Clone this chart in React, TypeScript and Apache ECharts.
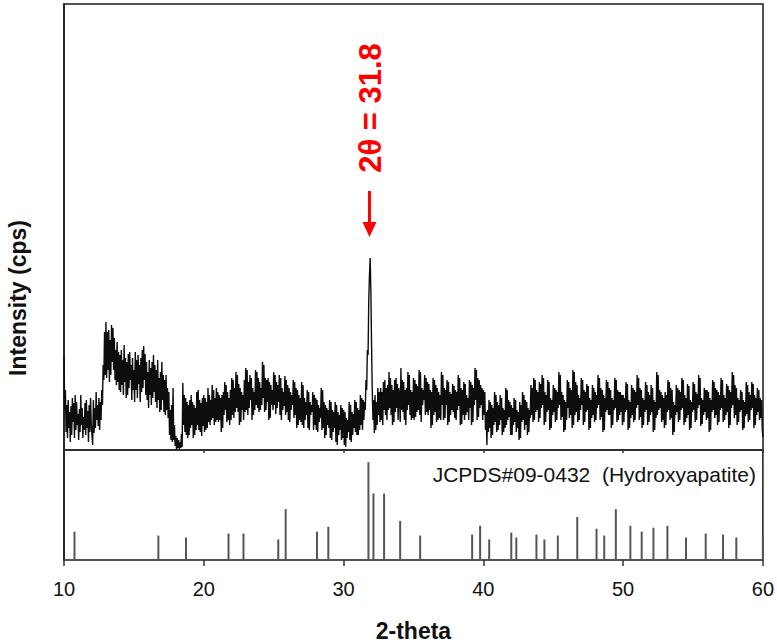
import React, { useEffect, useRef } from "react";
import * as echarts from "echarts";

// Measured XRD pattern: one row per degree of 2-theta, 20 readings per row (step 0.05)
const TWO_THETA_START = 10;
const TWO_THETA_STEP = 0.05;
const intensityRows: number[][] = [
  [93, 40, 60, 18, 45, 12, 50, 22, 38, 8, 44, 15, 52, 28, 47, 12, 55, 20, 48, 25], // 10
  [36, 10, 41, 18, 55, 25, 42, 12, 33, 20, 47, 15, 50, 22, 39, 8, 45, 18, 52, 26], // 11
  [26, 5, 50, 17, 42, 22, 58, 30, 45, 24, 52, 20, 48, 30, 60, 45, 85, 70, 118, 75], // 12
  [128, 72, 118, 80, 120, 68, 110, 75, 125, 88, 122, 80, 112, 70, 100, 65, 108, 68, 98, 60], // 13
  [95, 58, 100, 65, 90, 55, 105, 68, 92, 52, 88, 55, 96, 62, 98, 70, 85, 50, 92, 60], // 14
  [80, 48, 98, 60, 90, 52, 95, 66, 85, 48, 92, 58, 100, 62, 104, 70, 96, 55, 88, 50], // 15
  [78, 42, 90, 55, 82, 45, 88, 52, 95, 58, 85, 48, 80, 42, 90, 50, 72, 38, 78, 40], // 16
  [88, 50, 75, 38, 70, 35, 75, 40, 62, 32, 58, 15, 40, 10, 45, 8, 62, 10, 25, 4], // 17
  [14, 0, 12, 2, 10, 1, 8, 2, 16, 3, 67, 25, 55, 18, 52, 15, 48, 12, 45, 15], // 18
  [50, 22, 55, 25, 48, 12, 45, 15, 42, 20, 58, 25, 60, 20, 50, 18, 47, 14, 52, 24], // 19
  [55, 18, 52, 20, 48, 22, 62, 28, 55, 25, 50, 30, 65, 32, 60, 25, 52, 28, 62, 30], // 20
  [58, 28, 55, 30, 52, 18, 55, 22, 58, 35, 68, 40, 65, 28, 58, 30, 52, 25, 60, 30], // 21
  [72, 35, 70, 32, 62, 38, 78, 42, 75, 38, 66, 25, 62, 28, 58, 40, 55, 30, 70, 38], // 22
  [82, 40, 80, 35, 68, 42, 75, 50, 72, 30, 62, 35, 58, 40, 80, 45, 78, 42, 72, 38], // 23
  [68, 40, 62, 45, 88, 52, 85, 38, 72, 40, 70, 48, 72, 30, 68, 32, 65, 45, 60, 40], // 24
  [78, 45, 75, 36, 68, 42, 65, 48, 75, 35, 72, 30, 62, 40, 58, 44, 74, 35, 70, 38], // 25
  [65, 30, 62, 28, 58, 40, 55, 45, 70, 32, 68, 35, 62, 22, 60, 25, 55, 30, 52, 28], // 26
  [68, 25, 65, 22, 52, 30, 48, 35, 60, 22, 58, 20, 48, 35, 45, 38, 58, 20, 55, 25], // 27
  [52, 20, 50, 18, 45, 28, 42, 32, 62, 20, 60, 22, 48, 12, 45, 15, 42, 25, 40, 22], // 28
  [50, 12, 48, 10, 40, 18, 38, 22, 48, 8, 45, 5, 38, 15, 35, 20, 45, 10, 42, 12], // 29
  [40, 5, 38, 3, 32, 12, 30, 18, 48, 10, 45, 8, 38, 15, 36, 22, 50, 18, 48, 15], // 30
  [42, 15, 40, 20, 55, 25, 52, 20, 50, 30, 48, 40, 70, 60, 100, 95, 150, 175, 192, 160], // 31
  [105, 60, 30, 50, 17, 55, 20, 48, 25, 62, 35, 58, 28, 62, 30, 58, 25, 68, 40, 70], // 32
  [35, 62, 30, 65, 40, 78, 42, 72, 35, 65, 25, 60, 28, 70, 38, 72, 42, 66, 30, 62], // 33
  [55, 28, 82, 40, 70, 38, 68, 30, 60, 25, 62, 40, 78, 45, 75, 35, 60, 30, 58, 32], // 34
  [72, 30, 70, 33, 66, 38, 64, 40, 80, 35, 78, 28, 62, 45, 60, 50, 75, 35, 72, 38], // 35
  [68, 35, 66, 40, 60, 22, 58, 25, 72, 35, 70, 38, 65, 28, 62, 30, 58, 32, 55, 30], // 36
  [78, 45, 75, 30, 62, 32, 60, 45, 70, 25, 68, 28, 58, 35, 56, 40, 66, 38, 64, 32], // 37
  [60, 30, 58, 40, 75, 44, 72, 25, 62, 26, 60, 35, 68, 30, 66, 35, 55, 38, 52, 30], // 38
  [70, 42, 68, 25, 65, 28, 62, 45, 82, 50, 80, 30, 72, 33, 70, 42, 65, 45, 62, 30], // 39
  [60, 35, 58, 20, 38, 5, 40, 18, 50, 22, 48, 12, 45, 15, 42, 25, 58, 28, 55, 18], // 40
  [48, 20, 45, 25, 55, 30, 52, 15, 42, 18, 40, 22, 62, 25, 60, 30, 50, 33, 48, 15], // 41
  [45, 15, 42, 25, 52, 28, 50, 18, 40, 22, 38, 10, 48, 12, 45, 28, 58, 30, 55, 20], // 42
  [50, 25, 48, 15, 42, 18, 40, 32, 65, 35, 62, 28, 72, 30, 70, 38, 60, 40, 58, 28], // 43
  [68, 32, 66, 42, 75, 45, 72, 25, 58, 28, 55, 38, 70, 40, 68, 20, 52, 22, 50, 35], // 44
  [65, 38, 62, 28, 60, 30, 58, 42, 78, 45, 75, 30, 58, 33, 55, 18, 50, 20, 48, 30], // 45
  [70, 42, 68, 32, 62, 35, 60, 22, 80, 25, 78, 35, 68, 38, 65, 28, 55, 30, 52, 40], // 46
  [72, 45, 70, 25, 60, 28, 58, 38, 66, 40, 64, 20, 52, 22, 50, 32, 65, 35, 62, 28], // 47
  [58, 30, 55, 42, 75, 45, 72, 30, 62, 33, 60, 18, 55, 20, 52, 38, 70, 40, 68, 35], // 48
  [62, 35, 60, 22, 52, 25, 50, 40, 72, 42, 70, 28, 60, 30, 58, 35, 58, 38, 55, 25], // 49
  [55, 28, 52, 38, 68, 40, 66, 20, 50, 22, 48, 32, 65, 35, 62, 28, 60, 30, 58, 42], // 50
  [75, 45, 72, 30, 62, 33, 60, 22, 52, 25, 50, 38, 68, 40, 65, 25, 58, 28, 55, 35], // 51
  [65, 38, 62, 18, 50, 20, 48, 32, 78, 35, 75, 40, 60, 42, 58, 28, 55, 30, 52, 22], // 52
  [58, 25, 55, 38, 70, 40, 68, 30, 62, 32, 60, 15, 48, 18, 45, 35, 65, 38, 62, 28], // 53
  [60, 30, 58, 40, 72, 42, 70, 25, 55, 28, 52, 32, 66, 35, 64, 20, 50, 22, 48, 38], // 54
  [68, 40, 66, 28, 58, 30, 56, 42, 75, 45, 72, 24, 52, 26, 50, 35, 62, 38, 60, 30], // 55
  [60, 32, 58, 18, 52, 20, 50, 38, 70, 40, 68, 32, 62, 35, 60, 25, 58, 28, 55, 40], // 56
  [72, 42, 70, 28, 55, 30, 52, 35, 66, 38, 64, 22, 60, 25, 58, 42, 78, 45, 75, 32], // 57
  [65, 35, 62, 25, 52, 28, 50, 38, 60, 40, 58, 20, 50, 22, 48, 34, 68, 36, 65, 28], // 58
  [58, 30, 55, 40, 68, 42, 66, 22, 55, 25, 52, 35, 62, 38, 60, 30, 52, 32, 50, 20], // 59
  [13], // 60
];

// JCPDS#09-0432 reference lines (relative intensity, strongest = 100)
const refPositions = [
  10.75, 16.75, 18.73, 21.77, 22.84, 25.33, 25.86, 28.1, 28.91, 31.78, 32.14,
  32.9, 34.05, 35.48, 39.2, 39.77, 40.42, 42.0, 42.36, 43.8, 44.37, 45.33,
  46.72, 48.1, 48.65, 49.48, 50.52, 51.33, 52.17, 53.17, 54.5, 55.91, 57.15,
  58.1, 60.0,
];
const refIntensities = [
  29, 25, 23, 27, 27, 21, 52, 29, 34, 100, 68, 68, 40, 25, 26, 35, 21, 28, 23,
  26, 21, 25, 44, 32, 25, 52, 35, 29, 33, 35, 23, 27, 26, 23, 25,
];

const X_MIN = 10;
const X_MAX = 60;
const X_INTERVAL = 10;
const PEAK_LABEL = "2θ = 31.8";
const PEAK_POSITION = 31.85;
const REF_LABEL = "JCPDS#09-0432  (Hydroxyapatite)";

const FONT = '"Liberation Sans", Arial, Helvetica, sans-serif';

export default function App() {
  const ref = useRef<HTMLDivElement>(null);

  useEffect(() => {
    document.body.style.margin = "0";
    if (!ref.current) return;
    const chart = echarts.init(ref.current, undefined, { renderer: "svg" });

    const pattern: [number, number][] = [];
    let idx = 0;
    intensityRows.forEach((row) =>
      row.forEach((v) => {
        pattern.push([
          +(TWO_THETA_START + idx * TWO_THETA_STEP).toFixed(2),
          v,
        ]);
        idx++;
      })
    );
    const sticks = refPositions.map((p, i) => [p, refIntensities[i]]);

    chart.setOption({
      animation: false,
      backgroundColor: "#ffffff",
      grid: [
        {
          left: 64,
          right: 14,
          top: 4,
          height: 446,
          show: true,
          borderColor: "#1a1a1a",
          borderWidth: 1.5,
          backgroundColor: "transparent",
        },
        {
          left: 64,
          right: 14,
          top: 450,
          height: 111,
          show: true,
          borderColor: "#1a1a1a",
          borderWidth: 1.5,
          backgroundColor: "transparent",
        },
      ],
      xAxis: [
        {
          gridIndex: 0,
          type: "value",
          min: X_MIN,
          max: X_MAX,
          interval: X_INTERVAL,
          axisLine: { show: true, onZero: false, lineStyle: { color: "#333", width: 1.5 } },
          axisTick: { show: true, length: 3, lineStyle: { color: "#333", width: 1.5 } },
          axisLabel: { show: false },
          splitLine: { show: false },
        },
        {
          gridIndex: 1,
          type: "value",
          min: X_MIN,
          max: X_MAX,
          interval: X_INTERVAL,
          axisLine: { show: true, onZero: false, lineStyle: { color: "#555", width: 1.5 } },
          axisTick: { show: true, length: 6, lineStyle: { color: "#333", width: 1.5 } },
          axisLabel: {
            show: true,
            fontSize: 20,
            color: "#111",
            fontFamily: FONT,
            margin: 19,
          },
          splitLine: { show: false },
          name: "2-theta",
          nameLocation: "middle",
          nameGap: 59,
          nameTextStyle: {
            fontSize: 23,
            fontWeight: "bold",
            color: "#111",
            fontFamily: FONT,
          },
        },
      ],
      yAxis: [
        {
          gridIndex: 0,
          type: "value",
          min: 0,
          max: 446,
          axisLine: { show: true, onZero: false, lineStyle: { color: "#1a1a1a", width: 1.5 } },
          axisTick: { show: false },
          axisLabel: { show: false },
          splitLine: { show: false },
        },
        {
          gridIndex: 1,
          type: "value",
          min: 0,
          max: 112.5,
          axisLine: { show: true, onZero: false, lineStyle: { color: "#1a1a1a", width: 1.5 } },
          axisTick: { show: false },
          axisLabel: { show: false },
          splitLine: { show: false },
        },
      ],
      series: [
        {
          type: "line",
          xAxisIndex: 0,
          yAxisIndex: 0,
          data: pattern,
          showSymbol: false,
          symbol: "none",
          lineStyle: { color: "#0d0d0d", width: 1.4 },
          clip: true,
        },
        {
          type: "bar",
          xAxisIndex: 1,
          yAxisIndex: 1,
          data: sticks,
          barWidth: 2,
          itemStyle: { color: "#555" },
        },
      ],
    });

    const px = chart.convertToPixel({ xAxisIndex: 0 }, PEAK_POSITION) as number;

    chart.setOption({
      graphic: [
        {
          type: "text",
          x: 18,
          y: 298,
          rotation: Math.PI / 2,
          style: {
            text: "Intensity (cps)",
            font: `bold 23px ${FONT}`,
            fill: "#111",
            align: "center",
            verticalAlign: "middle",
            textAlign: "center",
            textVerticalAlign: "middle",
          },
        },
        {
          type: "text",
          x: 756,
          y: 474,
          style: {
            text: REF_LABEL,
            font: `21px ${FONT}`,
            fill: "#111",
            align: "right",
            verticalAlign: "middle",
            textAlign: "right",
            textVerticalAlign: "middle",
          },
        },
        {
          type: "text",
          x: px + 1,
          y: 108,
          rotation: Math.PI / 2,
          style: {
            text: PEAK_LABEL,
            font: `bold 31px ${FONT}`,
            fill: "#ff0000",
            align: "center",
            verticalAlign: "middle",
            textAlign: "center",
            textVerticalAlign: "middle",
          },
        },
        {
          type: "line",
          shape: { x1: px, y1: 191, x2: px, y2: 226 },
          style: { stroke: "#ff0000", lineWidth: 3 },
        },
        {
          type: "polygon",
          shape: {
            points: [
              [px - 7, 222],
              [px + 7, 222],
              [px, 237],
            ],
          },
          style: { fill: "#ff0000" },
        },
      ],
    });

    return () => chart.dispose();
  }, []);

  return <div ref={ref} style={{ width: 777, height: 643 }} />;
}
